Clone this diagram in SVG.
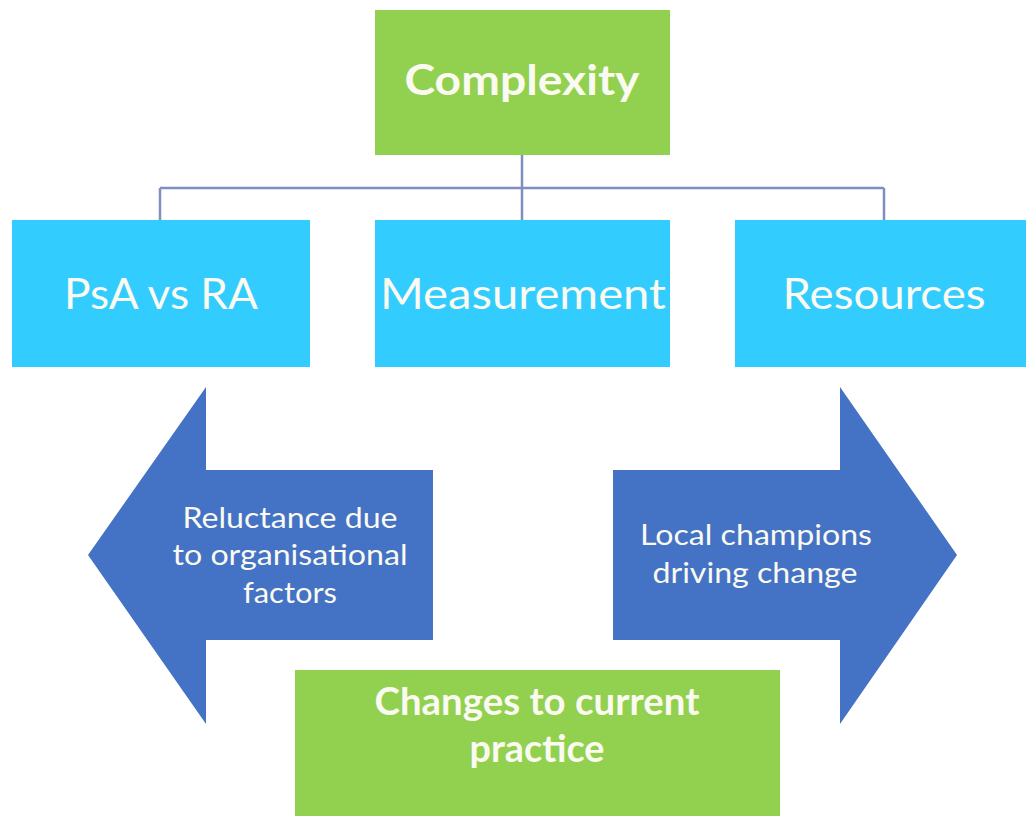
<svg xmlns="http://www.w3.org/2000/svg" width="1026" height="816" viewBox="0 0 1026 816">
<style>
.green{fill:#92D050}
.cyan{fill:#33CCFF}
.blue{fill:#4472C4}
text{font-family:Lato,"Open Sans","Liberation Sans",sans-serif;fill:#FAFAF0;text-anchor:middle}
.b{font-weight:bold}
.big{font-size:43px}
.mid{font-size:29px}
.conn{stroke:#7F8FBF;stroke-width:2.5;fill:none}
</style>
<rect width="1026" height="816" fill="#FFFFFF"/>
<g id="connectors">
<path class="conn" d="M522,155 V220 M160,188 H884 M160,188 V220 M884,188 V220"/>
</g>
<g id="complexity">
<rect class="green" x="375" y="10" width="295" height="145"/>
<text class="b" x="522" y="95" font-size="42" textLength="235" lengthAdjust="spacingAndGlyphs">Complexity</text>
</g>
<g id="psa">
<rect class="cyan" x="12" y="220" width="298" height="147"/>
<text class="big" x="161" y="309" textLength="194" lengthAdjust="spacingAndGlyphs">PsA vs RA</text>
</g>
<g id="measurement">
<rect class="cyan" x="375" y="220" width="295" height="147"/>
<text class="big" x="523" y="309" textLength="286" lengthAdjust="spacingAndGlyphs">Measurement</text>
</g>
<g id="resources">
<rect class="cyan" x="735" y="220" width="296" height="147"/>
<text class="big" x="884" y="309" textLength="203" lengthAdjust="spacingAndGlyphs">Resources</text>
</g>
<g id="reluctance">
<polygon class="blue" points="88,555 206,387 206,470 433,470 433,640 206,640 206,724"/>
<text class="mid" x="290" y="528" textLength="215" lengthAdjust="spacingAndGlyphs">Reluctance due</text>
<text class="mid" x="290" y="565" textLength="235" lengthAdjust="spacingAndGlyphs">to organisational</text>
<text class="mid" x="290" y="603" textLength="94" lengthAdjust="spacingAndGlyphs">factors</text>
</g>
<g id="champions">
<polygon class="blue" points="957,555 840,387 840,470 613,470 613,640 840,640 840,724"/>
<text class="mid" x="756" y="545" textLength="232" lengthAdjust="spacingAndGlyphs">Local champions</text>
<text class="mid" x="755" y="583" textLength="205" lengthAdjust="spacingAndGlyphs">driving change</text>
</g>
<g id="changes">
<rect class="green" x="295" y="670" width="485" height="146"/>
<text class="b" x="537" y="715" font-size="38" textLength="325" lengthAdjust="spacingAndGlyphs">Changes to current</text>
<text class="b" x="537" y="762" font-size="38" textLength="135" lengthAdjust="spacingAndGlyphs">practice</text>
</g>
</svg>
